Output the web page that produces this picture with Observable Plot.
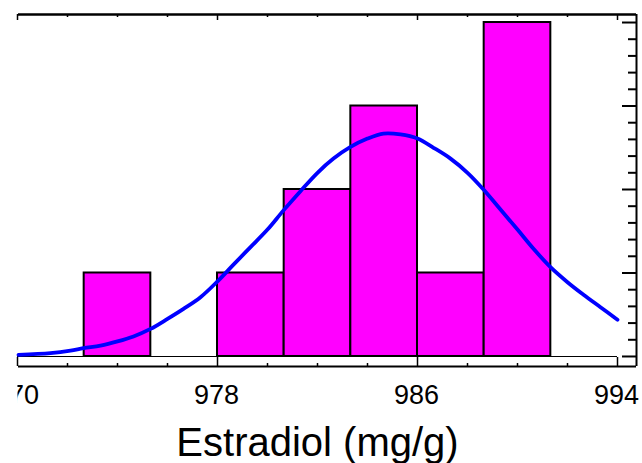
<!DOCTYPE html>
<html>
<head>
<meta charset="utf-8">
<script src="https://cdn.jsdelivr.net/npm/d3@7"></script>
<script src="https://cdn.jsdelivr.net/npm/@observablehq/plot@0.6"></script>
<style>
  html, body { margin: 0; padding: 0; background: #fff; }
  #chart svg { display: block; }
</style>
</head>
<body>
<div id="chart"></div>
<script>
// ---- Data ----
const binLo  = [972.667, 975.333, 978.0, 980.667, 983.333, 986.0, 988.667];
const binHi  = [975.333, 978.0, 980.667, 983.333, 986.0, 988.667, 991.333];
const counts = [1, 0, 1, 2, 3, 1, 4];

// Fitted-curve points
const curveX = [970.04, 971.32, 972.12, 972.64, 973.32, 974.0, 974.64, 975.32, 976.0, 976.64,
                977.32, 978.0, 978.64, 979.32, 980.0, 980.64, 981.32, 982.0, 982.64, 983.32,
                984.0, 984.64, 985.32, 986.0, 986.64, 987.32, 988.0, 988.64, 989.32, 990.0,
                990.64, 991.32, 992.0, 992.64, 993.32, 994.0];
const curveY = [0.02, 0.04, 0.07, 0.10, 0.13, 0.18, 0.24, 0.33, 0.45, 0.57,
                0.71, 0.90, 1.10, 1.31, 1.52, 1.75, 1.98, 2.20, 2.37, 2.51,
                2.61, 2.67, 2.66, 2.61, 2.50, 2.37, 2.20, 2.00, 1.76, 1.52,
                1.29, 1.07, 0.89, 0.74, 0.59, 0.44];

const xLabelTicks = [970, 978, 986, 994];
const xMinorTicks = [972, 974, 976, 980, 982, 984, 988, 990, 992];
const yMajorTicks = [0, 1, 2, 3, 4];
const yMinorTicks = [0.2, 0.4, 0.6, 0.8, 1.2, 1.4, 1.6, 1.8, 2.2, 2.4, 2.6, 2.8, 3.2, 3.4, 3.6, 3.8];
const xLabel = "Estradiol (mg/g)";

// ---- Derived tables ----
const bars = counts.map((c, i) => ({lo: binLo[i], hi: binHi[i], count: c})).filter(d => d.count > 0);
const curve = curveX.map((x, i) => ({x, y: curveY[i]}));

// ---- Layout ----
const W = 642, H = 463;
const mL = 17, mR = 6, mT = 14, mB = 97;
const frameW = W - mL - mR, frameH = H - mT - mB;
const xDomain = [970, 970 + frameW / 25];
const yDomain = [-0.12, 4.096];

const chart = Plot.plot({
  width: W, height: H,
  marginLeft: mL, marginRight: mR, marginTop: mT, marginBottom: mB,
  x: {domain: xDomain, axis: null},
  y: {domain: yDomain, axis: null},
  style: {fontFamily: "'Liberation Sans', Arial, sans-serif", background: "#fff", color: "#000"},
  marks: [
    // baseline at count 0
    Plot.ruleY([0], {x1: xLabelTicks[0], x2: xLabelTicks[xLabelTicks.length - 1], stroke: "#000", strokeWidth: 1.2}),
    // histogram bars
    Plot.rect(bars, {x1: "lo", x2: "hi", y1: () => 0, y2: "count", fill: "#FF00FF", stroke: "#000", strokeWidth: 2}),
    // fitted curve
    Plot.line(curve, {x: "x", y: "y", curve: "catmull-rom", stroke: "#0000FF", strokeWidth: 3.8,
      strokeLinejoin: "round", strokeLinecap: "round"}),
    // frame: top, bottom, right
    Plot.ruleY([yDomain[1]], {stroke: "#000", strokeWidth: 2.5, insetLeft: 1}),
    Plot.ruleY([yDomain[0]], {stroke: "#000", strokeWidth: 2, insetLeft: 1}),
    Plot.ruleX([xDomain[1]], {stroke: "#000", strokeWidth: 2}),
    // bottom ticks (inward)
    Plot.ruleX(xMinorTicks, {x: d => d, insetTop: frameH - 3, stroke: "#000", strokeWidth: 1.5}),
    Plot.ruleX(xLabelTicks, {x: d => d, insetTop: frameH - 9, stroke: "#000", strokeWidth: 1.5}),
    // top ticks (inward)
    Plot.ruleX(xMinorTicks, {x: d => d, insetBottom: frameH - 3, stroke: "#000", strokeWidth: 1.5}),
    Plot.ruleX(xLabelTicks, {x: d => d, insetBottom: frameH - 6, stroke: "#000", strokeWidth: 1.5}),
    // right ticks (inward)
    Plot.ruleY(yMinorTicks, {y: d => d, insetLeft: frameW - 8, stroke: "#000", strokeWidth: 2}),
    Plot.ruleY(yMajorTicks, {y: d => d, insetLeft: frameW - 14, stroke: "#000", strokeWidth: 2}),
    // tick labels
    Plot.text(xLabelTicks, {x: d => d, text: d => String(d), frameAnchor: "bottom", dy: 37.5, dx: -1,
      lineAnchor: "bottom", textAnchor: "middle", fontSize: 27, fill: "#000"}),
    // axis title
    Plot.text([xLabel], {x: () => (xLabelTicks[0] + xLabelTicks[xLabelTicks.length - 1]) / 2, text: d => d,
      frameAnchor: "bottom", dy: 89, lineAnchor: "bottom", textAnchor: "middle", fontSize: 40, fill: "#000"})
  ]
});

// The reference's drawing area is clipped at its left edge: the first tick label shows only its tail.
(function clipLeft() {
  const svg = d3.select(chart);
  const id = "left-clip";
  svg.insert("defs", ":first-child")
    .append("clipPath").attr("id", id)
    .append("rect").attr("x", mL + 0.5).attr("y", 0).attr("width", W).attr("height", H);
  const labelG = svg.selectAll('g[aria-label="text"]').nodes()[0];
  if (labelG) {
    const wrap = document.createElementNS("http://www.w3.org/2000/svg", "g");
    wrap.setAttribute("clip-path", `url(#${id})`);
    labelG.parentNode.insertBefore(wrap, labelG);
    wrap.appendChild(labelG);
  }
})();

document.getElementById("chart").appendChild(chart);
</script>
</body>
</html>
